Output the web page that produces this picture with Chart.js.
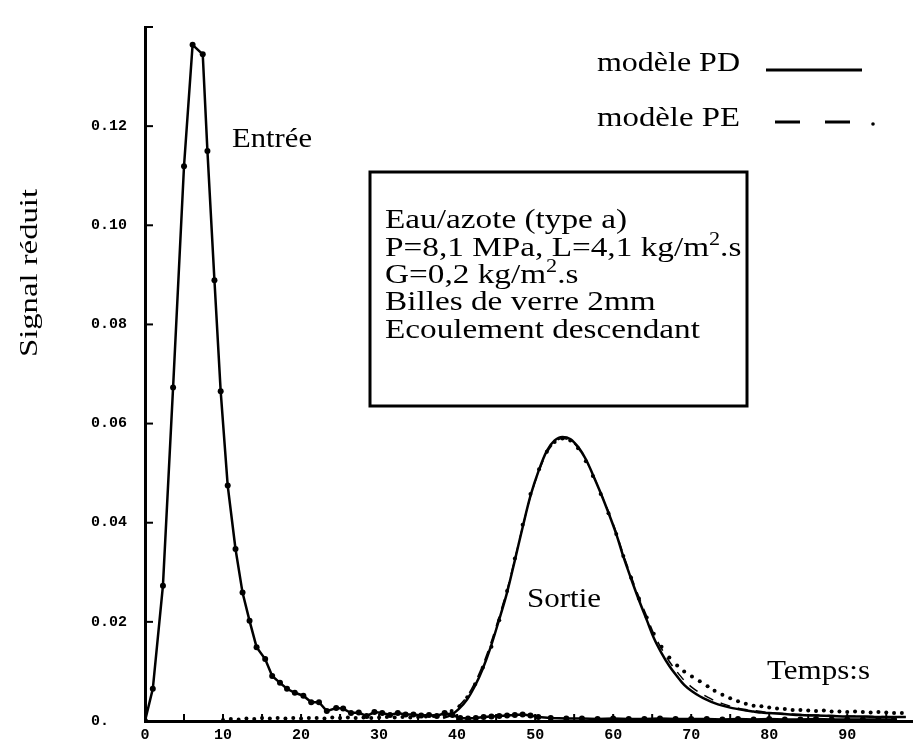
<!DOCTYPE html>
<html>
<head>
<meta charset="utf-8">
<script src="https://cdn.jsdelivr.net/npm/chart.js@4.4.1/dist/chart.umd.min.js"></script>
<style>
  html, body { margin: 0; padding: 0; background: #fff; }
  #wrap { width: 917px; height: 749px; }
</style>
</head>
<body>
<div id="wrap"><canvas id="chart" width="917" height="749"></canvas></div>
<script>
// signal d'entrée (points reliés)
var entreeTemps = [0, 1, 2.3, 3.6, 5, 6.1, 7.4, 8, 8.9, 9.7,
    10.6, 11.6, 12.5, 13.4, 14.3, 15.4, 16.3, 17.3, 18.2, 19.2, 20.3, 21.3, 22.3, 23.3, 24.5,
    25.4, 26.4, 27.4, 28.4, 29.4, 30.4, 31.4, 32.4, 33.4, 34.4, 35.4, 36.4, 37.4, 38.4, 39.4,
    40.4, 41.4, 42.4, 43.4, 44.4, 45.4, 46.4, 47.4, 48.4, 49.4, 50.4,
    52, 54, 56, 58, 60, 62, 64, 66, 68, 70, 72, 74, 76, 78, 80, 82, 84, 86, 88, 90, 92, 94, 96];
var entreeSignal = [0, 0.0065, 0.0273, 0.0673, 0.1119, 0.1364, 0.1345, 0.1150, 0.0889, 0.0665,
    0.0475, 0.0347, 0.0259, 0.0202, 0.0149, 0.0125, 0.0091, 0.0077, 0.0065, 0.0057, 0.0051, 0.0038, 0.0038, 0.0020, 0.0026,
    0.0025, 0.0016, 0.0017, 0.0010, 0.0018, 0.0016, 0.0012, 0.0016, 0.0013, 0.0013, 0.0011, 0.0012, 0.0010, 0.0016, 0.0012,
    0.0006, 0.0005, 0.0006, 0.0008, 0.0009, 0.0010, 0.0011, 0.0012, 0.0013, 0.0011, 0.0008,
    0.0006, 0.0005, 0.0005, 0.0004, 0.0005, 0.0004, 0.0004, 0.0005, 0.0004, 0.0004, 0.0004, 0.0003, 0.0004, 0.0003, 0.0004, 0.0003, 0.0003, 0.0004, 0.0003, 0.0003, 0.0003, 0.0003, 0.0003];

// signal de sortie mesuré (points)
var sortieTemps = [10, 11, 12, 13, 14, 15, 16, 17, 18, 19, 20, 21, 22, 23, 24, 25, 26, 27, 28, 29,
    30, 31, 32, 33, 34, 35, 36, 37, 38.3, 39.3, 40.3, 41.3, 42.3, 43.3, 44.4, 45.4, 46.4, 47.4, 48.4, 49.4,
    50.5, 51.5, 52.5, 53.5, 54.5, 55.5, 56.5, 57.4, 58.4, 59.4, 60.4, 61.3, 62.3, 63.3, 64.3, 65.2, 66.2, 67.2, 68.2, 69.1,
    70.1, 71.1, 72.1, 73, 74, 75, 76, 77, 78, 79, 80, 81, 82, 83, 84, 85, 86, 87, 88, 89,
    90, 91, 92, 93, 94, 95, 96, 97];
var sortieSignal = [0.0002, 0.0004, 0.0003, 0.0005, 0.0004, 0.0006, 0.0005, 0.0006, 0.0005, 0.0006,
    0.0005, 0.0006, 0.0006, 0.0005, 0.0007, 0.0006, 0.0007, 0.0006, 0.0007, 0.0006,
    0.0007, 0.0008, 0.0007, 0.0008, 0.0007, 0.0008, 0.0009, 0.0010, 0.0014, 0.0020,
    0.0030, 0.0048, 0.0074, 0.0108, 0.0150, 0.0203, 0.0262, 0.0328, 0.0396, 0.0458,
    0.0508, 0.0543, 0.0563, 0.0570, 0.0566, 0.0550, 0.0524, 0.0494, 0.0458, 0.0419,
    0.0377, 0.0333, 0.0289, 0.0247, 0.0209, 0.0176, 0.0150, 0.0128, 0.0112, 0.0100,
    0.0090, 0.0080, 0.0070, 0.0061, 0.0053, 0.0046, 0.0040, 0.0035, 0.0031, 0.0030,
    0.0027, 0.0025, 0.0024, 0.0022, 0.0022, 0.0021, 0.0020, 0.0021, 0.0019, 0.0019,
    0.0018, 0.0019, 0.0018, 0.0017, 0.0018, 0.0017, 0.0016, 0.0016];

// modèles
var modeleTemps = [38.2, 39.2, 40.2, 41.3, 42.3, 43.3, 44.3, 45.3, 46.4, 47.4, 48.4, 49.4, 50.5, 51.5, 52.5, 53.5, 54.5, 55.5, 56.5, 57.4,
    58.4, 59.4, 60.4, 61.3, 62.3, 63.3, 64.3, 65.2, 66.2, 67.2, 68.2, 69.1, 70.1, 71.1, 72.1, 73, 74, 75, 76, 77,
    78, 79, 80, 82, 84, 86, 88, 90, 92, 94, 96, 97.5];
var modelePD = [0.0006, 0.0012, 0.0024, 0.0044, 0.0071, 0.0106, 0.0149, 0.0200, 0.0259, 0.0324,
    0.0391, 0.0454, 0.0507, 0.0545, 0.0566, 0.0573, 0.0569, 0.0553, 0.0528, 0.0497,
    0.0460, 0.0420, 0.0377, 0.0332, 0.0287, 0.0244, 0.0204, 0.0168, 0.0137, 0.0111,
    0.0090, 0.0073, 0.0060, 0.0050, 0.0042, 0.0036, 0.0031, 0.0027, 0.0024, 0.0021,
    0.0019, 0.0017, 0.0016, 0.0014, 0.0012, 0.0011, 0.0010, 0.0009, 0.0009, 0.0008, 0.0008, 0.0008];
var modelePE = [0.0009, 0.0017, 0.0030, 0.0050, 0.0078, 0.0113, 0.0156, 0.0206, 0.0264, 0.0327,
    0.0392, 0.0453, 0.0504, 0.0541, 0.0562, 0.0570, 0.0566, 0.0551, 0.0527, 0.0497,
    0.0461, 0.0422, 0.0380, 0.0336, 0.0292, 0.0250, 0.0211, 0.0176, 0.0146, 0.0120,
    0.0099, 0.0082, 0.0068, 0.0057, 0.0048, 0.0041, 0.0035, 0.0030, 0.0026, 0.0023,
    0.0021, 0.0019, 0.0017, 0.0015, 0.0013, 0.0012, 0.0011, 0.0010, 0.0009, 0.0009, 0.0008, 0.0008];

// graduations
var yTicks = [0.02, 0.04, 0.06, 0.08, 0.10, 0.12, 0.14];
var xTicks = [5, 10, 15, 20, 25, 30, 35, 40, 45, 50, 55, 60, 65, 70, 75, 80, 85, 90, 95];

function pairs(xs, ys) {
    return xs.map(function (x, i) { return { x: x, y: ys[i] }; });
}

var serif = '"Liberation Serif", "Times New Roman", serif';

function texteEtire(ctx, str, x, y, size, largeur) {
    ctx.save();
    ctx.font = size + 'px ' + serif;
    var w = ctx.measureText(str).width;
    ctx.translate(x, y);
    ctx.scale(largeur / w, 1);
    ctx.fillText(str, 0, 0);
    ctx.restore();
}

// lignes de texte avec exposant
function ligneExposant(ctx, parts, x, y, size, sx) {
    var cx = x;
    parts.forEach(function (p) {
        var s = p.sup ? Math.round(size * 0.65) : size;
        ctx.save();
        ctx.font = s + 'px ' + serif;
        var w = ctx.measureText(p.t).width;
        ctx.translate(cx, p.sup ? y - size * 0.32 : y);
        ctx.scale(sx, 1);
        ctx.fillText(p.t, 0, 0);
        ctx.restore();
        cx += w * sx;
    });
}

var annotations = {
    id: 'annotations',
    afterDraw: function (chart) {
        var ctx = chart.ctx;
        var xs = chart.scales.x, ys = chart.scales.y;
        ctx.save();
        ctx.fillStyle = '#000';
        ctx.strokeStyle = '#000';

        // petites graduations vers l'intérieur
        ctx.lineWidth = 2;
        yTicks.forEach(function (v) {
            var py = ys.getPixelForValue(v);
            ctx.beginPath();
            ctx.moveTo(xs.left, py);
            ctx.lineTo(xs.left + 8, py);
            ctx.stroke();
        });
        xTicks.forEach(function (v) {
            var px = xs.getPixelForValue(v);
            ctx.beginPath();
            ctx.moveTo(px, ys.bottom);
            ctx.lineTo(px, ys.bottom - 7);
            ctx.stroke();
        });

        ctx.textBaseline = 'middle';
        ctx.textAlign = 'left';

        // titre de l'axe vertical
        ctx.save();
        ctx.translate(30, 273);
        ctx.rotate(-Math.PI / 2);
        texteEtire(ctx, 'Signal réduit', -84, 0, 26, 168);
        ctx.restore();

        // légende
        texteEtire(ctx, 'modèle PD', 597, 64, 28, 143);
        texteEtire(ctx, 'modèle PE', 597, 119, 28, 143);
        ctx.lineWidth = 3;
        ctx.beginPath();
        ctx.moveTo(766, 70);
        ctx.lineTo(862, 70);
        ctx.stroke();
        ctx.beginPath();
        ctx.moveTo(775, 122); ctx.lineTo(800, 122);
        ctx.moveTo(825, 122); ctx.lineTo(850, 122);
        ctx.stroke();
        ctx.beginPath();
        ctx.arc(873, 124, 1.8, 0, Math.PI * 2);
        ctx.fill();

        // étiquettes des courbes
        texteEtire(ctx, 'Entrée', 232, 140, 28, 80);
        texteEtire(ctx, 'Sortie', 527, 600, 28, 74);
        texteEtire(ctx, 'Temps:s', 767, 672, 28, 103);

        // cadre des conditions
        ctx.lineWidth = 3;
        ctx.strokeRect(370, 172, 377, 234);
        var size = 27;
        ctx.font = size + 'px ' + serif;
        var sx = 315 / ctx.measureText('Ecoulement descendant').width;
        ligneExposant(ctx, [{ t: 'Eau/azote (type a)' }], 385, 221, size, sx);
        ligneExposant(ctx, [{ t: 'P=8,1 MPa, L=4,1 kg/m' }, { t: '2', sup: true }, { t: '.s' }], 385, 249, size, sx);
        ligneExposant(ctx, [{ t: 'G=0,2 kg/m' }, { t: '2', sup: true }, { t: '.s' }], 385, 276, size, sx);
        ligneExposant(ctx, [{ t: 'Billes de verre 2mm' }], 385, 303, size, sx);
        ligneExposant(ctx, [{ t: 'Ecoulement descendant' }], 385, 331, size, sx);

        ctx.restore();
    }
};

var ctx = document.getElementById('chart').getContext('2d');
new Chart(ctx, {
    type: 'line',
    data: {
        datasets: [{
            label: 'Entrée',
            data: pairs(entreeTemps, entreeSignal),
            borderColor: '#000',
            backgroundColor: '#000',
            borderWidth: 2.5,
            pointRadius: 3,
            pointBorderWidth: 0,
            tension: 0
        }, {
            label: 'Sortie',
            data: pairs(sortieTemps, sortieSignal),
            showLine: false,
            borderColor: '#000',
            backgroundColor: '#000',
            pointRadius: 2,
            pointBorderWidth: 0
        }, {
            label: 'modèle PD',
            data: pairs(modeleTemps, modelePD),
            borderColor: '#000',
            borderWidth: 2.5,
            pointRadius: 0,
            cubicInterpolationMode: 'monotone'
        }, {
            label: 'modèle PE',
            data: pairs(modeleTemps, modelePE),
            borderColor: '#000',
            borderWidth: 1.5,
            borderDash: [10, 8],
            pointRadius: 0,
            cubicInterpolationMode: 'monotone'
        }]
    },
    options: {
        responsive: false,
        animation: false,
        layout: { padding: { top: 14, right: 0, left: 0, bottom: 0 } },
        plugins: { legend: { display: false }, tooltip: { enabled: false } },
        scales: {
            x: {
                type: 'linear',
                min: 0,
                max: 98.3,
                grid: { display: true, drawOnChartArea: false, drawTicks: false },
                border: { display: true, color: '#000', width: 3 },
                ticks: {
                    stepSize: 10,
                    autoSkip: false,
                    maxRotation: 0,
                    padding: 5,
                    color: '#000',
                    font: { family: '"Liberation Mono", monospace', size: 15, weight: 'bold' },
                    callback: function (v) { return v <= 90 ? String(v) : ''; }
                },
                afterFit: function (scale) { scale.height = 28; }
            },
            y: {
                min: 0,
                max: 0.14,
                grid: { display: true, drawOnChartArea: false, drawTicks: false },
                border: { display: true, color: '#000', width: 3 },
                ticks: {
                    stepSize: 0.02,
                    padding: 18,
                    color: '#000',
                    font: { family: '"Liberation Mono", monospace', size: 15, weight: 'bold' },
                    callback: function (v) {
                        if (v > 0.13) return '';
                        if (v === 0) return '0.  ';
                        return v.toFixed(2);
                    }
                },
                afterFit: function (scale) { scale.width = 145; }
            }
        }
    },
    plugins: [annotations]
});
</script>
</body>
</html>
